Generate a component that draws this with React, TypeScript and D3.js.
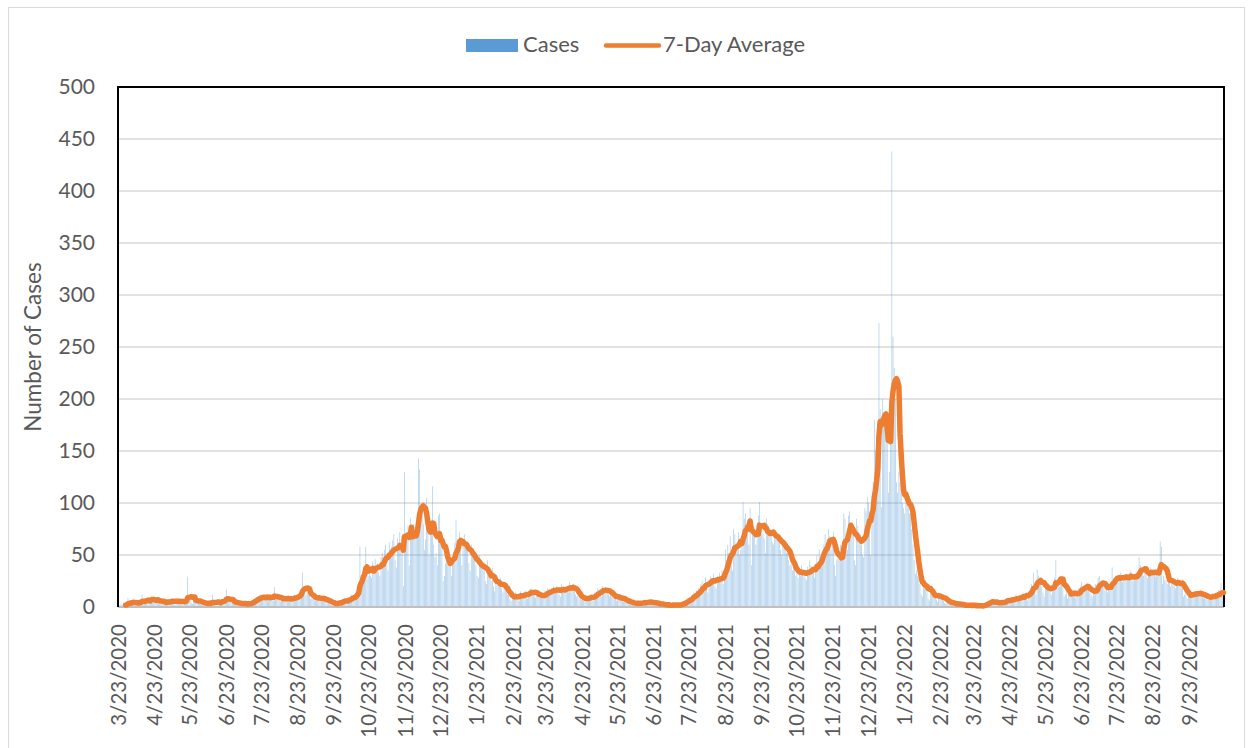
import React from "react";
import * as d3 from "d3";

// Daily case counts, one array per calendar month (first array starts 3/23/2020)
const mar2020 = [1, 2, 3, 2, 4, 1, 0, 3, 9];
const apr2020 = [4, 6, 3, 5, 2, 1, 7, 5, 4, 6, 3, 12, 2, 5, 8, 6, 9, 4, 7, 10, 6, 8, 5, 3, 9, 7, 4, 6, 5, 3];
const may2020 = [5, 4, 3, 7, 6, 5, 8, 6, 4, 2, 7, 6, 5, 8, 6, 3, 2, 6, 7, 9, 29, 8, 6, 4, 3, 8, 9, 7, 6, 4, 3];
const jun2020 = [3, 5, 4, 6, 3, 2, 1, 4, 5, 3, 12, 4, 2, 1, 5, 6, 4, 7, 8, 5, 3, 9, 17, 6, 7, 5, 4, 3, 6, 5];
const jul2020 = [4, 3, 5, 2, 1, 4, 5, 3, 4, 2, 1, 3, 4, 5, 6, 8, 7, 5, 9, 10, 8, 12, 9, 11, 7, 6, 10, 12, 9, 11, 8];
const aug2020 = [9, 6, 19, 8, 10, 9, 7, 5, 6, 11, 9, 8, 10, 7, 6, 5, 9, 11, 8, 12, 10, 7, 9, 13, 15, 18, 33, 20, 14, 12, 16];
const sep2020 = [14, 12, 8, 10, 9, 7, 6, 11, 10, 9, 8, 7, 5, 9, 8, 6, 7, 5, 3, 2, 4, 5, 3, 2, 4, 3, 5, 6, 4, 7];
const oct2020 = [6, 8, 5, 4, 9, 7, 10, 12, 11, 9, 8, 15, 18, 22, 58, 30, 25, 36, 30, 58, 32, 30, 38, 30, 28, 44, 40, 46, 35, 42, 33];
const nov2020 = [30, 48, 52, 46, 55, 60, 40, 35, 62, 55, 58, 64, 70, 45, 38, 66, 60, 72, 58, 68, 20, 130, 62, 70, 78, 40, 85, 72, 65, 80];
const dec2020 = [70, 67, 70, 143, 132, 95, 95, 80, 55, 65, 105, 72, 50, 78, 80, 116, 60, 48, 52, 40, 88, 90, 70, 62, 25, 30, 42, 55, 50, 52, 40];
const jan2021 = [30, 45, 50, 62, 84, 65, 60, 72, 55, 40, 65, 70, 62, 58, 55, 42, 35, 60, 55, 52, 48, 40, 30, 28, 50, 45, 42, 42, 35, 25, 22];
const feb2021 = [45, 30, 28, 25, 38, 20, 15, 24, 22, 26, 20, 28, 18, 14, 22, 18, 14, 12, 12, 8, 6, 9, 12, 9, 14, 11, 8, 6];
const mar2021 = [15, 12, 10, 14, 16, 9, 8, 15, 17, 18, 14, 16, 10, 9, 13, 12, 10, 14, 11, 8, 9, 16, 14, 18, 17, 15, 12, 13, 20, 16, 18];
const apr2021 = [20, 16, 12, 10, 22, 18, 20, 17, 19, 15, 14, 24, 20, 18, 22, 16, 12, 10, 14, 8, 9, 7, 10, 6, 5, 12, 9, 8, 10, 12];
const may2021 = [8, 6, 14, 12, 15, 18, 16, 14, 10, 20, 18, 16, 19, 15, 12, 10, 14, 12, 11, 9, 8, 6, 10, 12, 9, 7, 8, 6, 5, 4, 7];
const jun2021 = [5, 6, 4, 3, 2, 1, 5, 4, 6, 3, 5, 2, 1, 6, 7, 4, 5, 6, 3, 2, 6, 5, 4, 3, 5, 2, 1, 3, 2, 4];
const jul2021 = [3, 2, 1, 0, 2, 3, 1, 2, 4, 1, 0, 3, 2, 1, 3, 4, 2, 5, 6, 3, 8, 7, 10, 6, 9, 12, 14, 10, 16, 13, 18];
const aug2021 = [12, 22, 25, 20, 18, 28, 24, 14, 26, 30, 28, 25, 32, 20, 18, 30, 29, 33, 27, 35, 22, 30, 55, 45, 60, 52, 68, 40, 35, 75, 70];
const sep2021 = [62, 58, 72, 50, 55, 60, 101, 85, 90, 78, 70, 60, 95, 40, 82, 78, 72, 60, 70, 88, 101, 75, 80, 70, 66, 52, 85, 80, 72, 70];
const oct2021 = [75, 62, 60, 72, 68, 70, 65, 62, 55, 50, 66, 60, 58, 52, 55, 45, 40, 42, 35, 38, 40, 30, 32, 28, 35, 30, 40, 36, 32, 28, 26];
const nov2021 = [39, 30, 45, 40, 38, 35, 28, 36, 50, 42, 55, 48, 45, 52, 60, 70, 58, 62, 75, 68, 55, 65, 72, 40, 30, 45, 50, 48, 60, 58];
const dec2021 = [45, 90, 85, 60, 55, 88, 92, 80, 75, 70, 45, 40, 85, 78, 65, 70, 60, 50, 48, 95, 92, 106, 100, 90, 50, 95, 120, 180, 150, 165, 170];
const jan2022 = [273, 190, 96, 200, 175, 185, 180, 174, 110, 130, 159, 438, 260, 230, 200, 120, 110, 130, 120, 110, 100, 95, 90, 115, 105, 100, 90, 95, 75, 60, 45];
const feb2022 = [32, 35, 30, 28, 22, 12, 10, 25, 22, 26, 23, 8, 6, 14, 13, 15, 12, 10, 7, 5, 14, 12, 11, 9, 6, 4, 3, 7];
const mar2022 = [6, 5, 4, 3, 2, 1, 4, 3, 5, 2, 3, 1, 0, 2, 3, 1, 2, 3, 0, 1, 2, 1, 3, 2, 0, 1, 0, 2, 1, 3, 0];
const apr2022 = [2, 4, 3, 6, 5, 7, 4, 6, 3, 2, 5, 6, 4, 3, 5, 4, 3, 6, 8, 7, 9, 6, 5, 4, 10, 8, 9, 12, 7, 6];
const may2022 = [8, 10, 12, 14, 9, 13, 11, 6, 15, 18, 22, 20, 33, 15, 12, 36, 30, 25, 28, 20, 14, 10, 22, 24, 16, 21, 18, 12, 15, 24, 28];
const jun2022 = [45, 18, 22, 20, 30, 26, 28, 10, 12, 14, 8, 15, 17, 12, 14, 10, 16, 9, 11, 18, 15, 20, 24, 19, 16, 17, 22, 21, 18, 14];
const jul2022 = [12, 10, 15, 16, 22, 19, 28, 30, 18, 20, 24, 21, 16, 19, 14, 18, 22, 23, 38, 25, 24, 30, 27, 26, 28, 33, 29, 24, 30, 28, 31];
const aug2022 = [26, 30, 28, 35, 27, 25, 31, 29, 28, 34, 48, 40, 38, 32, 30, 35, 34, 28, 36, 30, 38, 33, 32, 36, 29, 34, 31, 35, 63, 58, 22];
const sep2022 = [30, 26, 25, 22, 32, 25, 20, 27, 24, 20, 18, 26, 28, 22, 20, 24, 23, 10, 12, 15, 8, 10, 13, 11, 12, 14, 16, 10, 13, 12];
const oct2022 = [14, 12, 15, 11, 9, 10, 8, 12, 7, 11, 9, 10, 13, 8, 12, 14, 11, 16, 9, 23, 10, 14];

const monthly = [
  mar2020, apr2020, may2020, jun2020, jul2020, aug2020, sep2020, oct2020, nov2020, dec2020,
  jan2021, feb2021, mar2021, apr2021, may2021, jun2021, jul2021, aug2021, sep2021, oct2021, nov2021, dec2021,
  jan2022, feb2022, mar2022, apr2022, may2022, jun2022, jul2022, aug2022, sep2022, oct2022,
];

const START_DATE = new Date(2020, 2, 23);
const yTicks = [0, 50, 100, 150, 200, 250, 300, 350, 400, 450, 500];
const seriesNames = ["Cases", "7-Day Average"];

const BAR_COLOR = "#5B9BD5";
const LINE_COLOR = "#ED7D31";
const TEXT_COLOR = "#595959";
const FONT = "Lato, 'Open Sans', sans-serif";

export default function App() {
  const W = 1253;
  const H = 748;
  const L = 118;
  const R = 1224;
  const T = 87;
  const B = 607;

  const cases: number[] = monthly.flat();
  const N = cases.length;
  const dates = cases.map((_, i) => d3.timeDay.offset(START_DATE, i));

  const x = d3.scaleLinear().domain([0, N]).range([L, R]);
  const y = d3.scaleLinear().domain([0, 500]).range([B, T]);
  const slot = (R - L) / N;
  const barW = slot * 0.5;

  const avg: (number | null)[] = cases.map((_, i) =>
    i < 6 ? null : (d3.mean(cases.slice(i - 6, i + 1)) as number)
  );
  const lineGen = d3
    .line<number | null>()
    .defined((d) => d != null)
    .x((_, i) => x(i + 0.5))
    .y((d) => y(d as number));
  const linePath = lineGen(avg) || "";

  const fmt = d3.timeFormat("%-m/%d/%Y");
  const tickIdx = dates
    .map((d, i) => (d.getDate() === 23 ? i : -1))
    .filter((i) => i >= 0);

  return (
    <svg
      width={W}
      height={H}
      style={{ position: "absolute", left: 0, top: 0, background: "#fff" }}
      fontFamily={FONT}
    >
      <rect x={0} y={0} width={W} height={H} fill="#fff" />
      <rect x={8.5} y={7.5} width={1236} height={745} fill="none" stroke="#d9d9d9" strokeWidth={1} />

      {/* gridlines */}
      {yTicks.slice(1).map((t) => (
        <line key={t} x1={L} x2={R} y1={y(t)} y2={y(t)} stroke="#d9d9d9" strokeWidth={1.6} />
      ))}

      {/* bars */}
      <g fill={BAR_COLOR} fillOpacity={0.62}>
        {cases.map((v, i) => (
          <rect key={i} x={x(i + 0.5) - barW / 2} y={y(v)} width={barW} height={B - y(v)} />
        ))}
      </g>

      {/* axis line */}
      <line x1={L} x2={R} y1={B} y2={B} stroke="#bfbfbf" strokeWidth={2} />

      {/* plot border */}
      <path d={`M${L},${B} V${T} H${R} V${B}`} fill="none" stroke="#000" strokeWidth={2} />

      {/* 7-day average */}
      <path d={linePath} fill="none" stroke={LINE_COLOR} strokeWidth={5.5} strokeLinejoin="round" strokeLinecap="round" />

      {/* y labels */}
      {yTicks.map((t) => (
        <text key={t} x={95} y={y(t)} dy="0.35em" textAnchor="end" fontSize={21} fill={TEXT_COLOR}>
          {t}
        </text>
      ))}

      {/* x labels */}
      {tickIdx.map((i) => (
        <text
          key={i}
          transform={`translate(${x(i + 0.5)},${624}) rotate(-90)`}
          dy="0.35em"
          textAnchor="end"
          fontSize={20.5}
          fill={TEXT_COLOR}
        >
          {fmt(dates[i])}
        </text>
      ))}

      {/* y title */}
      <text
        transform={`translate(41,347) rotate(-90)`}
        textAnchor="middle"
        fontSize={22.5}
        fill={TEXT_COLOR}
      >
        Number of Cases
      </text>

      {/* legend */}
      <rect x={466} y={39} width={52} height={13} fill={BAR_COLOR} />
      <text x={523} y={52} fontSize={22} fill={TEXT_COLOR}>
        {seriesNames[0]}
      </text>
      <line x1={606} x2={659} y1={45.5} y2={45.5} stroke={LINE_COLOR} strokeWidth={4.5} strokeLinecap="round" />
      <text x={663} y={52} fontSize={22} fill={TEXT_COLOR}>
        {seriesNames[1]}
      </text>
    </svg>
  );
}
